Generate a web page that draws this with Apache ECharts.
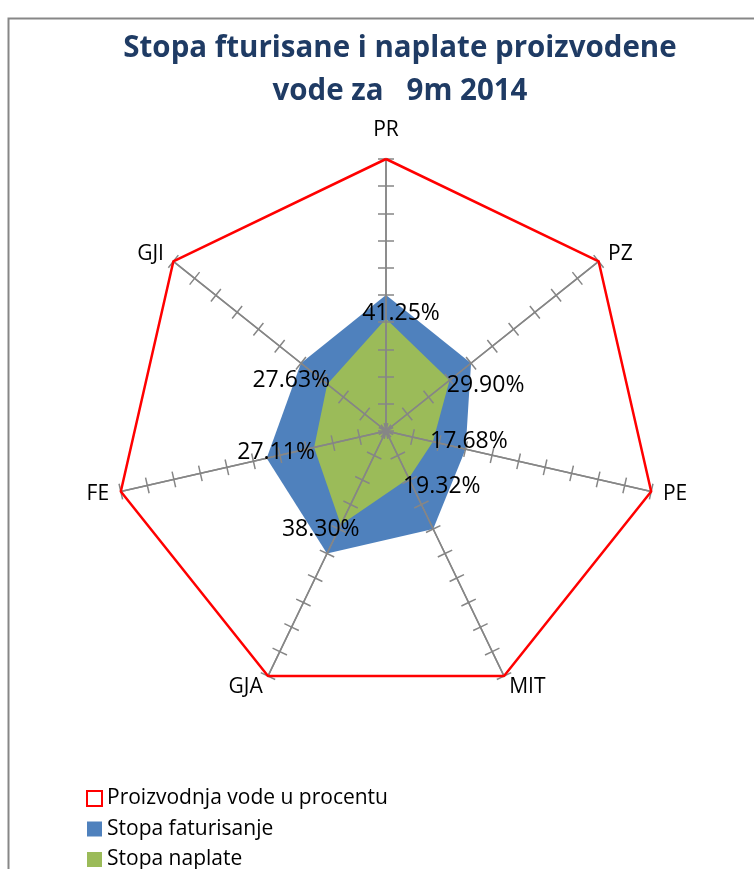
<!DOCTYPE html>
<html>
<head>
<meta charset="utf-8">
<script src="https://cdn.jsdelivr.net/npm/echarts@6/dist/echarts.min.js"></script>
<style>
html,body{margin:0;padding:0;background:#fff;}
#chart{width:754px;height:869px;}
</style>
</head>
<body>
<div id="chart"></div>
<script>
// ---- data (clockwise order starting at top) ----
var categories = ['PR', 'PZ', 'PE', 'MIT', 'GJA', 'FE', 'GJI'];
var seriesNames = ['Proizvodnja vode u procentu', 'Stopa faturisanje', 'Stopa naplate'];
var proizvodnja = [100, 100, 100, 100, 100, 100, 100];
var faturisanje = [50, 40, 30, 40, 50, 45, 40];
var naplata = [41.25, 29.90, 17.68, 19.32, 38.30, 27.11, 27.63];
var titleLines = ['Stopa fturisane i naplate proizvodene', 'vode za   9m 2014'];

// ---- styling (label offsets relative to the data point) ----
var labelOffsets = {
  PR: [15, -5], PZ: [36, 5], PE: [36, 0], MIT: [33, 8],
  GJA: [-20, 5], FE: [-38, 5], GJI: [-36, -4]
};

// ECharts radar runs counter-clockwise; reorder so the picture runs clockwise
function ccw(arr) { return [arr[0]].concat(arr.slice(1).reverse()); }
var cats = ccw(categories);
var vProd = ccw(proizvodnja), vFat = ccw(faturisanje), vNap = ccw(naplata);

var FONT = "'Open Sans', 'Liberation Sans', sans-serif";
var AXIS_COLOR = '#868686';

function makeIndicator() { return cats.map(function (c) { return { name: c, min: 0, max: 100 }; }); }

function radarBase(tickLen, showName) {
  return {
    indicator: makeIndicator(),
    center: [386, 431],
    radius: 272,
    startAngle: 90,
    splitNumber: 10,
    shape: 'polygon',
    nameGap: 12,
    axisName: {
      show: showName,
      color: '#000',
      fontFamily: FONT,
      fontSize: 21,
      formatter: function (name) { return name === 'PR' ? '{top|' + name + '}' : name; },
      rich: { top: { padding: [0, 0, 6, 0], fontFamily: FONT, fontSize: 21, color: '#000' } }
    },
    axisLine: { show: true, lineStyle: { color: AXIS_COLOR, width: 1.5 } },
    axisTick: { show: true, length: tickLen, lineStyle: { color: AXIS_COLOR, width: 1.5 } },
    axisLabel: { show: false },
    splitLine: { show: false },
    splitArea: { show: false },
    z: 3
  };
}

var labelItems = cats.map(function (c, i) {
  return {
    value: vNap,
    name: 'lbl' + c,
    label: {
      show: true,
      position: 'inside',
      offset: labelOffsets[c],
      color: '#000',
      fontFamily: FONT,
      fontSize: 23,
      formatter: function (p) {
        return p.dimensionIndex === i ? Number(p.value).toFixed(2) + '%' : '';
      }
    }
  };
});

var option = {
  backgroundColor: '#fff',
  animation: false,
  title: {
    text: titleLines.join('\n'),
    left: 395,
    textAlign: 'center',
    top: 22,
    textStyle: {
      fontFamily: FONT, fontSize: 29.5, fontWeight: 'bold', color: '#1F3B64', lineHeight: 43
    }
  },
  graphic: [{
    type: 'rect', left: 6, top: 16, z: -10, silent: true,
    shape: { width: 800, height: 900 },
    style: { fill: 'none', stroke: '#878787', lineWidth: 2 }
  }],
  legend: {
    orient: 'vertical',
    left: 86,
    top: 788,
    height: 120,
    padding: 0,
    itemWidth: 15,
    itemHeight: 15,
    itemGap: 9.5,
    textStyle: { fontFamily: FONT, fontSize: 21, color: '#000' },
    data: [
      { name: seriesNames[0], icon: 'rect', itemStyle: { color: '#fff', borderColor: '#FF0000', borderWidth: 2 } },
      { name: seriesNames[1], icon: 'rect', itemStyle: { color: '#4F81BD', borderWidth: 0 } },
      { name: seriesNames[2], icon: 'rect', itemStyle: { color: '#9BBB59', borderWidth: 0 } }
    ]
  },
  radar: [radarBase(8, true), radarBase(-8, false)],
  series: [
    {
      type: 'radar', radarIndex: 0, z: 1, symbol: 'none',
      data: [{ name: seriesNames[1], value: vFat }],
      lineStyle: { width: 0, color: '#4F81BD' },
      itemStyle: { color: '#4F81BD' },
      areaStyle: { color: '#4F81BD', opacity: 1 }
    },
    {
      type: 'radar', radarIndex: 0, z: 2, symbol: 'none',
      data: [{ name: seriesNames[2], value: vNap }],
      lineStyle: { width: 0, color: '#9BBB59' },
      itemStyle: { color: '#9BBB59' },
      areaStyle: { color: '#9BBB59', opacity: 1 }
    },
    {
      type: 'radar', radarIndex: 0, z: 4, symbol: 'none',
      data: [{ name: seriesNames[0], value: vProd }],
      lineStyle: { width: 2.5, color: '#FF0000' },
      itemStyle: { color: '#FF0000' }
    },
    {
      type: 'radar', radarIndex: 1, z: 6, symbol: 'circle', symbolSize: 0.1,
      itemStyle: { color: 'rgba(0,0,0,0)' },
      lineStyle: { width: 0, opacity: 0 },
      data: labelItems
    }
  ]
};

var chart = echarts.init(document.getElementById('chart'), null, { renderer: 'canvas' });
chart.setOption(option);
</script>
</body>
</html>
